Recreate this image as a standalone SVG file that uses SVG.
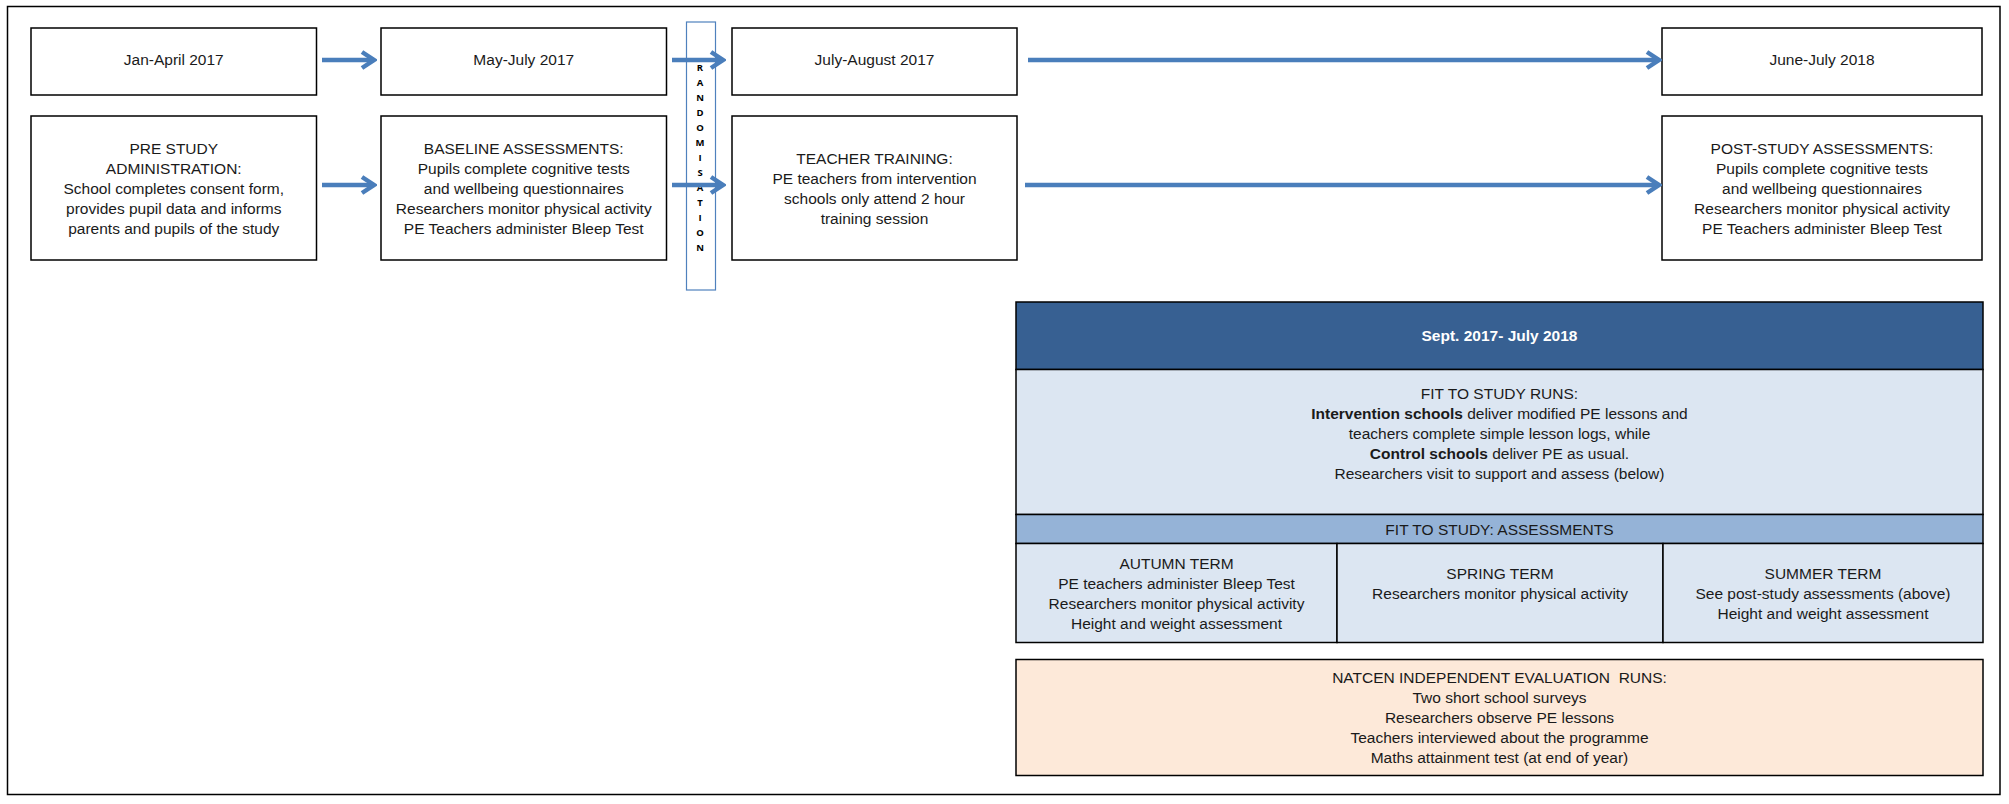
<svg xmlns="http://www.w3.org/2000/svg" width="2009" height="804" viewBox="0 0 2009 804">
<style>
text{font-family:"Liberation Sans",Arial,sans-serif;font-size:15.5px;fill:#1a1a1a;text-anchor:middle}
.box{fill:#ffffff;stroke:#000;stroke-width:1.5}
.conn{stroke:#4a7ebb;stroke-width:4.5;fill:none}
.rnd{font-family:"Open Sans","Liberation Sans",sans-serif;font-size:9.5px;font-weight:bold;fill:#000}
.b{font-weight:bold}
.hdr{font-weight:bold;fill:#ffffff}
.pan{stroke:#000;stroke-width:1.5}
</style>
<defs>
<marker id="ah" markerUnits="userSpaceOnUse" markerWidth="18" markerHeight="22" viewBox="0 0 18 22" refX="15" refY="11" orient="auto">
<path d="M3,3 L15,11 L3,19" fill="none" stroke="#4a7ebb" stroke-width="4.5" stroke-linejoin="miter"/>
</marker>
</defs>
<rect x="7.5" y="6.5" width="1992.5" height="788" fill="#ffffff" stroke="#000" stroke-width="1.5"/>
<g id="randomisation">
<rect x="686.5" y="22" width="29" height="268" fill="#ffffff" stroke="#4f81bd" stroke-width="1.2"/>
<text class="rnd" x="700" y="71">R</text>
<text class="rnd" x="700" y="86">A</text>
<text class="rnd" x="700" y="100.5">N</text>
<text class="rnd" x="700" y="115.5">D</text>
<text class="rnd" x="700" y="130.5">O</text>
<text class="rnd" x="700" y="145.5">M</text>
<text class="rnd" x="700" y="160.5">I</text>
<text class="rnd" x="700" y="175.5">S</text>
<text class="rnd" x="700" y="190.5">A</text>
<text class="rnd" x="700" y="205.5">T</text>
<text class="rnd" x="700" y="220.5">I</text>
<text class="rnd" x="700" y="235.5">O</text>
<text class="rnd" x="700" y="251">N</text>
</g>
<g id="jan-april">
<rect class="box" x="31" y="28" width="285.5" height="67"/>
<text x="173.75" y="64.5">Jan-April 2017</text>
</g>
<g id="may-july">
<rect class="box" x="381" y="28" width="285.5" height="67"/>
<text x="523.75" y="64.5">May-July 2017</text>
</g>
<g id="july-august">
<rect class="box" x="732" y="28" width="285" height="67"/>
<text x="874.5" y="64.5">July-August 2017</text>
</g>
<g id="june-july">
<rect class="box" x="1662" y="28" width="320" height="67"/>
<text x="1822" y="64.5">June-July 2018</text>
</g>
<g id="pre-study">
<rect class="box" x="31" y="116" width="285.5" height="144"/>
<text x="173.75" y="154">PRE STUDY</text>
<text x="173.75" y="174">ADMINISTRATION:</text>
<text x="173.75" y="194">School completes consent form,</text>
<text x="173.75" y="214">provides pupil data and informs</text>
<text x="173.75" y="234">parents and pupils of the study</text>
</g>
<g id="baseline">
<rect class="box" x="381" y="116" width="285.5" height="144"/>
<text x="523.75" y="154">BASELINE ASSESSMENTS:</text>
<text x="523.75" y="174">Pupils complete cognitive tests</text>
<text x="523.75" y="194">and wellbeing questionnaires</text>
<text x="523.75" y="214">Researchers monitor physical activity</text>
<text x="523.75" y="234">PE Teachers administer Bleep Test</text>
</g>
<g id="teacher-training">
<rect class="box" x="732" y="116" width="285" height="144"/>
<text x="874.5" y="164">TEACHER TRAINING:</text>
<text x="874.5" y="184">PE teachers from intervention</text>
<text x="874.5" y="204">schools only attend 2 hour</text>
<text x="874.5" y="224">training session</text>
</g>
<g id="post-study">
<rect class="box" x="1662" y="116" width="320" height="144"/>
<text x="1822" y="154">POST-STUDY ASSESSMENTS:</text>
<text x="1822" y="174">Pupils complete cognitive tests</text>
<text x="1822" y="194">and wellbeing questionnaires</text>
<text x="1822" y="214">Researchers monitor physical activity</text>
<text x="1822" y="234">PE Teachers administer Bleep Test</text>
</g>
<g id="connectors">
<line class="conn" x1="322" y1="60" x2="374" y2="60" marker-end="url(#ah)"/>
<line class="conn" x1="672" y1="60" x2="723" y2="60" marker-end="url(#ah)"/>
<line class="conn" x1="1028" y1="60" x2="1659" y2="60" marker-end="url(#ah)"/>
<line class="conn" x1="322" y1="185" x2="374" y2="185" marker-end="url(#ah)"/>
<line class="conn" x1="672" y1="185" x2="723" y2="185" marker-end="url(#ah)"/>
<line class="conn" x1="1025" y1="185" x2="1659" y2="185" marker-end="url(#ah)"/>
</g>
<g id="sept-header">
<rect class="pan" x="1016" y="302" width="967" height="67.5" fill="#376092"/>
<text class="hdr" x="1499.5" y="341">Sept. 2017- July 2018</text>
</g>
<g id="fit-runs">
<rect class="pan" x="1016" y="369.5" width="967" height="145" fill="#dce6f2"/>
<text x="1499.5" y="398.5">FIT TO STUDY RUNS:</text>
<text x="1499.5" y="418.5"><tspan class="b">Intervention schools</tspan> deliver modified PE lessons and</text>
<text x="1499.5" y="438.5">teachers complete simple lesson logs, while</text>
<text x="1499.5" y="458.5"><tspan class="b">Control schools</tspan> deliver PE as usual.</text>
<text x="1499.5" y="478.5">Researchers visit to support and assess (below)</text>
</g>
<g id="assessments-header">
<rect class="pan" x="1016" y="514.5" width="967" height="29" fill="#95b3d7"/>
<text x="1499.5" y="534.5">FIT TO STUDY: ASSESSMENTS</text>
</g>
<g id="autumn">
<rect class="pan" x="1016" y="543.5" width="321" height="99" fill="#dce6f2"/>
<text x="1176.5" y="569">AUTUMN TERM</text>
<text x="1176.5" y="589">PE teachers administer Bleep Test</text>
<text x="1176.5" y="609">Researchers monitor physical activity</text>
<text x="1176.5" y="629">Height and weight assessment</text>
</g>
<g id="spring">
<rect class="pan" x="1337" y="543.5" width="326" height="99" fill="#dce6f2"/>
<text x="1500" y="579">SPRING TERM</text>
<text x="1500" y="599">Researchers monitor physical activity</text>
</g>
<g id="summer">
<rect class="pan" x="1663" y="543.5" width="320" height="99" fill="#dce6f2"/>
<text x="1823" y="579">SUMMER TERM</text>
<text x="1823" y="599">See post-study assessments (above)</text>
<text x="1823" y="619">Height and weight assessment</text>
</g>
<g id="natcen">
<rect class="pan" x="1016" y="659.5" width="967" height="116" fill="#fde9d9"/>
<text x="1499.5" y="683" style="white-space:pre">NATCEN INDEPENDENT EVALUATION  RUNS:</text>
<text x="1499.5" y="703">Two short school surveys</text>
<text x="1499.5" y="723">Researchers observe PE lessons</text>
<text x="1499.5" y="743">Teachers interviewed about the programme</text>
<text x="1499.5" y="763">Maths attainment test (at end of year)</text>
</g>
</svg>
